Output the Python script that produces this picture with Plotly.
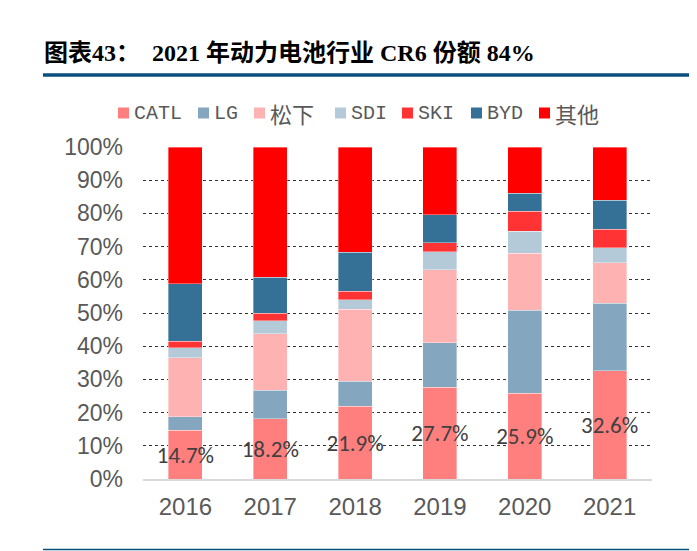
import plotly.graph_objects as go

years = ["2016", "2017", "2018", "2019", "2020", "2021"]
catl = [14.7, 18.2, 21.9, 27.7, 25.9, 32.6]
lg = [4.1, 8.5, 7.6, 13.3, 25.0, 20.3]
panasonic = [17.7, 17.1, 21.6, 22.1, 17.1, 12.2]
sdi = [3.1, 3.9, 2.9, 5.4, 6.6, 4.6]
ski = [1.9, 2.3, 2.5, 2.7, 6.0, 5.5]
byd = [17.3, 10.8, 11.8, 8.4, 5.5, 8.7]
other = [41.2, 39.2, 31.7, 20.4, 13.9, 16.1]

names = ["CATL", "LG", "松下", "SDI", "SKI", "BYD", "其他"]
values = [catl, lg, panasonic, sdi, ski, byd, other]
colors = ["#FF7F7F", "#84A6BE", "#FFB2B2", "#B4CAD8", "#FF3333", "#357096", "#FF0000"]

# screen-space layout helpers (browser page has an 8px body margin)
OFF = 8
PL, PR, PT, PB = 143, 652, 147, 479   # plot area in window pixels
PW, PH = PR - PL, PB - PT


def px(x):
    return (x - PL) / PW


def py(y):
    return (PB - y) / PH


fig = go.Figure()
for name, vals, color in zip(names, values, colors):
    kw = {}
    if name == "CATL":
        kw = dict(
            text=[f"{v:.1f}%" for v in vals],
            textposition="inside",
            insidetextanchor="middle",
            textangle=0,
            constraintext="none",
            insidetextfont=dict(family="Carlito, Liberation Sans, Arial", size=23, color="#404040"),
        )
    fig.add_trace(go.Bar(
        x=years, y=[v / 100 for v in vals], name=name, showlegend=False,
        marker=dict(color=color, line=dict(width=0.6, color="rgba(255,255,255,0.6)")),
        hoverinfo="skip", **kw))

# legend drawn as squares + labels
legend_x = [118, 198, 254, 335, 402, 471, 539]
legend_y = 113
shapes = []
annotations = []
for name, color, lx in zip(names, colors, legend_x):
    shapes.append(dict(type="rect", xref="paper", yref="paper",
                       x0=px(lx), x1=px(lx + 11), y0=py(legend_y + 5.5), y1=py(legend_y - 5.5),
                       fillcolor=color, line=dict(width=0)))
    is_cjk = any(ord(c) > 0x2E80 for c in name)
    annotations.append(dict(
        xref="paper", yref="paper", x=px(lx + 14), y=py(legend_y), xanchor="left", yanchor="middle",
        text=name, showarrow=False,
        font=dict(family="Liberation Mono, Noto Sans CJK SC" if not is_cjk else "Noto Sans CJK SC",
                  size=20 if not is_cjk else 22, color="#595959")))

shapes += [
    dict(type="line", xref="paper", yref="paper",
         x0=px(43), x1=px(697), y0=py(75), y1=py(75),
         line=dict(color="#0B4F7F", width=3.5)),
    dict(type="line", xref="paper", yref="paper",
         x0=px(43), x1=px(697), y0=py(549.5), y1=py(549.5),
         line=dict(color="#0B4F7F", width=1.5)),
]

W, H = 697 - OFF, 551 - OFF
fig.update_layout(
    width=W, height=H,
    barmode="stack", bargap=0.6,
    plot_bgcolor="white", paper_bgcolor="white",
    margin=dict(l=PL - OFF, r=697 - PR, t=PT - OFF, b=551 - PB),
    font=dict(family="Liberation Sans, Arial", color="#595959"),
    title=dict(
        text="<b>图表43：\u00a0 2021 年动力电池行业 CR6 份额 84%</b>",
        font=dict(family="Liberation Serif, Noto Sans CJK SC", size=24, color="black"),
        xref="container", yref="container", x=(44 - OFF) / W, xanchor="left",
        y=1 - (53 - OFF) / H, yanchor="middle"),
    showlegend=False,
    yaxis=dict(
        range=[0, 1], tickformat=".0%", dtick=0.1, tickfont=dict(size=23, color="#595959"),
        showgrid=True, gridcolor="#333333", griddash="dot", gridwidth=1,
        zeroline=False, showline=False, ticks="", ticklabelstandoff=19, fixedrange=True),
    xaxis=dict(
        tickfont=dict(size=24, color="#595959"), showline=True, linecolor="#D9D9D9",
        linewidth=2, ticks="", ticklabelstandoff=5, fixedrange=True),
    shapes=shapes,
    annotations=annotations,
)

fig.write_html("out.html")
